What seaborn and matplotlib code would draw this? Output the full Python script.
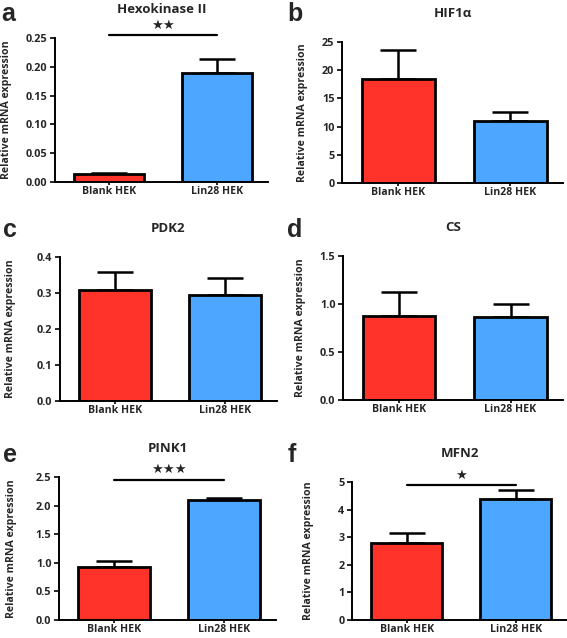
import matplotlib
matplotlib.use('Agg')
import matplotlib.pyplot as plt
import numpy as np
import pandas as pd
import seaborn as sns

# группы и цвета
groups = ['Blank HEK', 'Lin28 HEK']
colors = ['#FF3329', '#4DA6FF']

# средние значения и ошибки (только вверх)
genes = ['Hexokinase II', 'HIF1\u03b1', 'PDK2', 'CS', 'PINK1', 'MFN2']
letters = ['a', 'b', 'c', 'd', 'e', 'f']
means = [[0.0139, 0.1898], [18.38, 11.0], [0.307, 0.294],
         [0.872, 0.861], [0.934, 2.094], [2.80, 4.40]]
errs = [[0.0017, 0.0237], [5.2, 1.53], [0.050, 0.048],
        [0.250, 0.139], [0.098, 0.046], [0.34, 0.30]]
yticks = [[0, 0.05, 0.10, 0.15, 0.20, 0.25], [0, 5, 10, 15, 20, 25],
          [0, 0.1, 0.2, 0.3, 0.4], [0, 0.5, 1.0, 1.5],
          [0, 0.5, 1.0, 1.5, 2.0, 2.5], [0, 1, 2, 3, 4, 5]]
yfmt = ['{:.2f}', '{:.0f}', '{:.1f}', '{:.1f}', '{:.1f}', '{:.0f}']
# значимость: (звёзды, высота линии)
sig = [('\u2605\u2605', 0.2546), None, None, None, ('\u2605\u2605\u2605', 2.45), ('\u2605', 4.89)]

sns.set_style('white')
plt.rcParams['font.family'] = ['Open Sans', 'DejaVu Sans']
plt.rcParams['font.weight'] = 'bold'

W, H = 567, 638
fig = plt.figure(figsize=(W / 100, H / 100), dpi=100)

# положения осей в пикселях: left, right, top, bottom
boxes = [(55, 268, 38, 182), (342, 563, 42, 183),
         (60, 277, 257, 401), (343, 563, 256, 400),
         (59, 276, 477, 620), (352, 567, 482, 620)]
# центр подписи оси Y (пиксели по x)
ylab_x = [7, 303, 11, 301, 12, 309]
letter_pos = [(1, 21), (287, 21), (3, 237), (287, 237), (3, 462), (288, 462)]

for i in range(6):
    l, r, t, b = boxes[i]
    ax = fig.add_axes([l / W, 1 - b / H, (r - l) / W, (b - t) / H])
    df = pd.DataFrame({'group': groups, 'value': means[i]})
    ax.errorbar([0, 1], means[i], yerr=[[0, 0], errs[i]], fmt='none',
                ecolor='black', elinewidth=1.8, capsize=13, capthick=1.8, zorder=1)
    sns.barplot(data=df, x='group', y='value', hue='group', palette=colors,
                saturation=1, errorbar=None, width=0.65, edgecolor='black',
                linewidth=2.0, legend=False, ax=ax, zorder=2)
    ax.set_xlim(-0.5, 1.47)
    ax.set_ylim(0, yticks[i][-1])
    ax.set_yticks(yticks[i])
    ax.set_yticklabels([yfmt[i].format(v) for v in yticks[i]])
    ax.set_xlabel('')
    ax.set_ylabel('Relative mRNA expression', fontsize=7.6, fontweight='bold')
    # подпись оси Y ставим по центру в заданной точке
    ax.yaxis.label.set_va('center')
    ax.yaxis.set_label_coords((ylab_x[i] - l) / (r - l), 0.5)
    ax.set_title(genes[i], fontsize=9.5, fontweight='bold', pad=18)
    for s in ['top', 'right']:
        ax.spines[s].set_visible(False)
    for s in ['left', 'bottom']:
        ax.spines[s].set_linewidth(1.4)
        ax.spines[s].set_color('black')
    ax.tick_params(axis='y', labelsize=7.8, direction='out', length=3.5, width=1.4,
                   left=True, pad=2)
    ax.tick_params(axis='x', labelsize=7.6, direction='out', length=2.5, width=1.4,
                   bottom=True, pad=0.5)
    for lab in ax.get_xticklabels() + ax.get_yticklabels():
        lab.set_fontweight('bold')
    if sig[i] is not None:
        stars, yl = sig[i]
        ax.plot([0, 1], [yl, yl], color='black', lw=1.6, clip_on=False)
        ax.text(0.5, yl + yticks[i][-1] * 0.025, stars, ha='center', va='bottom',
                fontsize=9.5, family='DejaVu Sans', clip_on=False)
    fig.text(letter_pos[i][0] / W, 1 - letter_pos[i][1] / H, letters[i],
             fontsize=18, fontweight='bold', family='Liberation Sans',
             ha='left', va='baseline')

fig.savefig('out.png', dpi=100)
